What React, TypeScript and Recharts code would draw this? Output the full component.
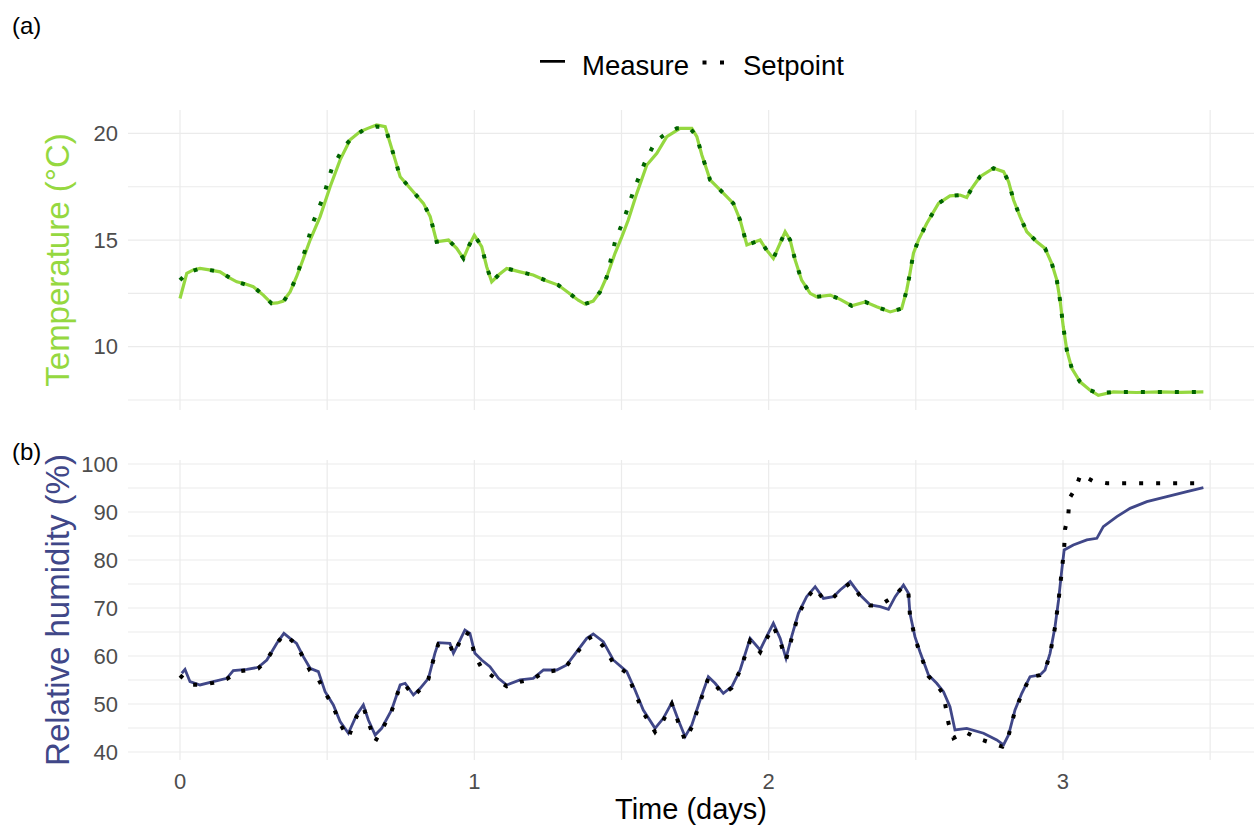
import { LineChart, Line, XAxis, YAxis, CartesianGrid, Label } from 'recharts';

// time in days
const X_TICKS = [0, 1, 2, 3];
const X_GRID = [0, 0.5, 1, 1.5, 2, 2.5, 3, 3.5];
const TEMP_TICKS = [10, 15, 20];
const TEMP_GRID = [7.5, 10, 12.5, 15, 17.5, 20];
const RH_TICKS = [40, 50, 60, 70, 80, 90, 100];
const RH_GRID = [40, 45, 50, 55, 60, 65, 70, 75, 80, 85, 90, 95, 100];

const TEMP_MEASURE: [number, number][] = [
  [0, 12.26], [0.023, 13.44], [0.045, 13.6], [0.068, 13.67], [0.1, 13.6], [0.136, 13.51],
  [0.165, 13.25], [0.193, 13.04], [0.22, 12.95], [0.249, 12.81], [0.283, 12.42], [0.311, 12.03],
  [0.33, 12.05], [0.351, 12.14], [0.374, 12.57], [0.396, 13.28], [0.413, 13.9], [0.442, 15.0],
  [0.476, 16.1], [0.51, 17.5], [0.544, 18.76], [0.578, 19.7], [0.612, 20.09], [0.64, 20.25],
  [0.668, 20.4], [0.697, 20.32], [0.714, 19.54], [0.731, 18.76], [0.748, 17.97], [0.782, 17.43],
  [0.827, 16.72], [0.85, 16.1], [0.872, 14.92], [0.912, 15.0], [0.94, 14.61], [0.963, 14.14],
  [0.98, 14.69], [1.0, 15.23], [1.025, 14.69], [1.042, 13.75], [1.059, 13.04], [1.082, 13.36],
  [1.11, 13.67], [1.155, 13.51], [1.2, 13.36], [1.24, 13.12], [1.285, 12.89], [1.32, 12.53],
  [1.353, 12.18], [1.376, 12.0], [1.404, 12.14], [1.427, 12.57], [1.45, 13.28], [1.478, 14.38],
  [1.501, 15.15], [1.523, 15.94], [1.552, 17.19], [1.586, 18.52], [1.62, 19.07], [1.654, 19.85],
  [1.699, 20.24], [1.739, 20.24], [1.756, 19.85], [1.773, 18.99], [1.79, 18.29], [1.801, 17.82],
  [1.835, 17.35], [1.88, 16.72], [1.903, 15.94], [1.926, 14.77], [1.971, 15.0], [1.993, 14.53],
  [2.016, 14.14], [2.039, 14.85], [2.056, 15.39], [2.073, 15.0], [2.09, 14.06], [2.112, 13.12],
  [2.141, 12.5], [2.163, 12.34], [2.209, 12.42], [2.243, 12.22], [2.282, 11.92], [2.328, 12.1],
  [2.367, 11.87], [2.413, 11.63], [2.452, 11.79], [2.469, 12.65], [2.48, 13.44], [2.492, 14.38],
  [2.509, 15.0], [2.537, 15.78], [2.577, 16.72], [2.616, 17.07], [2.65, 17.11], [2.673, 17.0],
  [2.69, 17.43], [2.718, 17.97], [2.764, 18.37], [2.798, 18.21], [2.815, 17.74], [2.832, 16.88],
  [2.854, 16.1], [2.877, 15.39], [2.911, 14.92], [2.939, 14.61], [2.962, 13.9], [2.979, 13.12],
  [2.99, 12.18], [3.001, 10.93], [3.013, 9.84], [3.03, 8.98], [3.058, 8.35], [3.092, 7.96],
  [3.12, 7.72], [3.171, 7.88], [3.25, 7.85], [3.33, 7.88], [3.4, 7.86], [3.477, 7.88],
];

const TEMP_SETPOINT: [number, number][] = [
  [0, 13.12], [0.023, 13.45], [0.068, 13.67], [0.136, 13.51], [0.193, 13.04], [0.249, 12.81],
  [0.283, 12.42], [0.311, 12.03], [0.351, 12.1], [0.374, 12.6], [0.396, 13.28], [0.425, 14.53],
  [0.453, 15.86], [0.487, 17.03], [0.515, 18.32], [0.557, 19.38], [0.587, 19.82], [0.623, 20.16],
  [0.666, 20.32], [0.697, 20.3], [0.714, 19.54], [0.731, 18.76], [0.748, 17.97], [0.782, 17.43],
  [0.827, 16.72], [0.85, 16.1], [0.872, 14.92], [0.912, 15.0], [0.94, 14.61], [0.963, 14.14],
  [0.98, 14.69], [1.0, 15.23], [1.025, 14.69], [1.042, 13.75], [1.059, 13.04], [1.082, 13.36],
  [1.11, 13.67], [1.155, 13.51], [1.2, 13.36], [1.24, 13.12], [1.285, 12.89], [1.32, 12.53],
  [1.353, 12.18], [1.376, 12.0], [1.404, 12.14], [1.427, 12.57], [1.45, 13.28], [1.478, 14.92],
  [1.512, 16.13], [1.544, 17.43], [1.578, 18.6], [1.615, 19.62], [1.648, 19.96], [1.688, 20.24],
  [1.733, 20.24], [1.756, 19.85], [1.773, 18.99], [1.79, 18.29], [1.801, 17.82], [1.835, 17.35],
  [1.88, 16.72], [1.903, 15.94], [1.926, 14.77], [1.971, 15.0], [1.993, 14.53], [2.016, 14.14],
  [2.039, 14.85], [2.056, 15.39], [2.073, 15.0], [2.09, 14.06], [2.112, 13.12], [2.141, 12.5],
  [2.163, 12.34], [2.209, 12.42], [2.243, 12.22], [2.282, 11.92], [2.328, 12.1], [2.367, 11.87],
  [2.413, 11.63], [2.452, 11.79], [2.469, 12.65], [2.48, 13.44], [2.492, 14.38], [2.509, 15.0],
  [2.537, 15.78], [2.577, 16.72], [2.616, 17.07], [2.65, 17.11], [2.673, 17.0], [2.69, 17.43],
  [2.718, 17.97], [2.764, 18.37], [2.798, 18.21], [2.815, 17.74], [2.832, 16.88], [2.854, 16.1],
  [2.877, 15.39], [2.911, 14.92], [2.939, 14.61], [2.962, 13.9], [2.979, 13.12], [2.99, 12.18],
  [3.001, 10.93], [3.013, 9.84], [3.03, 8.98], [3.058, 8.35], [3.092, 7.96], [3.12, 7.8],
  [3.171, 7.88], [3.25, 7.88], [3.33, 7.88], [3.4, 7.88], [3.477, 7.88],
];

const RH_MEASURE: [number, number][] = [
  [0.006, 56.4], [0.017, 57.2], [0.034, 54.65], [0.068, 53.96], [0.113, 54.65], [0.159, 55.35],
  [0.181, 56.94], [0.227, 57.22], [0.266, 57.64], [0.295, 59.17], [0.329, 62.64], [0.353, 64.72],
  [0.374, 63.68], [0.396, 62.64], [0.419, 59.86], [0.442, 57.43], [0.47, 56.74], [0.493, 52.57],
  [0.521, 49.8], [0.544, 46.32], [0.572, 43.9], [0.6, 47.7], [0.623, 49.8], [0.64, 46.67],
  [0.663, 43.54], [0.685, 44.93], [0.719, 48.75], [0.748, 53.96], [0.765, 54.31], [0.793, 51.88],
  [0.816, 53.26], [0.844, 55.35], [0.866, 60.56], [0.878, 62.78], [0.917, 62.64], [0.929, 60.56],
  [0.946, 62.64], [0.968, 65.42], [0.985, 64.72], [1.002, 60.56], [1.025, 59.17], [1.053, 57.78],
  [1.082, 55.35], [1.11, 53.96], [1.155, 55.0], [1.2, 55.35], [1.235, 57.08], [1.28, 57.08],
  [1.314, 58.13], [1.348, 60.9], [1.382, 63.68], [1.404, 64.58], [1.438, 62.99], [1.472, 59.17],
  [1.518, 56.74], [1.546, 52.92], [1.574, 48.75], [1.614, 44.93], [1.642, 47.01], [1.671, 50.28],
  [1.693, 46.67], [1.716, 43.19], [1.739, 45.63], [1.767, 50.83], [1.795, 55.69], [1.818, 54.31],
  [1.846, 52.22], [1.875, 53.61], [1.903, 57.08], [1.937, 63.68], [1.971, 61.25], [1.993, 64.03],
  [2.016, 66.81], [2.039, 63.68], [2.059, 59.51], [2.078, 64.03], [2.101, 68.9], [2.129, 72.36],
  [2.158, 74.44], [2.186, 72.0], [2.22, 72.36], [2.243, 73.75], [2.277, 75.49], [2.311, 72.71],
  [2.345, 70.63], [2.379, 70.28], [2.407, 69.72], [2.43, 72.36], [2.458, 74.79], [2.475, 73.06],
  [2.48, 68.9], [2.497, 64.03], [2.514, 60.9], [2.543, 56.04], [2.571, 54.31], [2.594, 52.57],
  [2.616, 49.44], [2.633, 44.58], [2.673, 44.93], [2.73, 43.9], [2.775, 42.5], [2.798, 41.46],
  [2.815, 43.54], [2.837, 48.75], [2.86, 52.22], [2.888, 55.69], [2.922, 56.04], [2.939, 57.08],
  [2.956, 60.56], [2.973, 66.11], [2.985, 71.67], [2.996, 77.92], [3.004, 82.08], [3.035, 83.13],
  [3.081, 84.17], [3.115, 84.51], [3.137, 86.94], [3.183, 89.03], [3.228, 90.76], [3.285, 92.15],
  [3.353, 93.19], [3.421, 94.24], [3.477, 95.07],
];

const RH_SETPOINT: [number, number][] = [
  [0, 56.0], [0.034, 54.0], [0.068, 54.0], [0.113, 54.4], [0.159, 55.2], [0.2, 56.8],
  [0.266, 57.4], [0.295, 59.2], [0.329, 62.6], [0.353, 64.5], [0.374, 63.5], [0.396, 62.4],
  [0.419, 59.6], [0.442, 56.9], [0.47, 55.2], [0.493, 52.4], [0.521, 49.4], [0.544, 45.8],
  [0.572, 43.0], [0.6, 47.4], [0.623, 49.4], [0.64, 46.2], [0.663, 42.2], [0.685, 44.5],
  [0.719, 48.5], [0.748, 53.8], [0.765, 54.0], [0.793, 51.6], [0.816, 53.0], [0.844, 55.2],
  [0.866, 60.4], [0.878, 62.5], [0.917, 62.4], [0.929, 60.4], [0.946, 62.4], [0.968, 65.0],
  [0.985, 64.4], [1.002, 60.0], [1.025, 57.5], [1.053, 56.2], [1.082, 54.8], [1.11, 53.7],
  [1.155, 54.6], [1.2, 55.2], [1.235, 56.6], [1.28, 57.0], [1.314, 58.0], [1.348, 60.6],
  [1.382, 63.4], [1.404, 64.2], [1.438, 62.0], [1.472, 58.6], [1.518, 56.4], [1.546, 52.4],
  [1.574, 48.2], [1.614, 44.2], [1.642, 46.6], [1.671, 50.0], [1.693, 46.2], [1.716, 42.4],
  [1.739, 45.2], [1.767, 50.4], [1.795, 55.4], [1.818, 54.0], [1.846, 52.0], [1.875, 53.4],
  [1.903, 57.0], [1.937, 63.2], [1.971, 60.8], [1.993, 63.6], [2.016, 66.2], [2.039, 63.0],
  [2.059, 59.2], [2.078, 63.6], [2.101, 68.6], [2.129, 72.0], [2.158, 74.2], [2.186, 71.8],
  [2.22, 72.2], [2.243, 73.6], [2.277, 75.2], [2.311, 72.5], [2.345, 70.5], [2.379, 70.6],
  [2.43, 72.6], [2.458, 74.6], [2.475, 73.0], [2.48, 68.6], [2.497, 63.8], [2.514, 60.6],
  [2.543, 55.8], [2.571, 54.0], [2.594, 52.0], [2.611, 46.0], [2.628, 42.9], [2.667, 44.2],
  [2.707, 42.9], [2.75, 42.0], [2.794, 41.1], [2.815, 43.4], [2.837, 48.6], [2.86, 52.0],
  [2.888, 55.6], [2.922, 56.0], [2.939, 57.0], [2.956, 60.4], [2.973, 66.0], [2.985, 71.6],
  [2.996, 77.8], [3.004, 82.4], [3.007, 86.4], [3.018, 89.4], [3.022, 92.85], [3.044, 95.1],
  [3.06, 97.85], [3.1, 96.5], [3.15, 96.0], [3.477, 96.0],
];

const GREEN = '#95D840';
const DARK_GREEN = '#006400';
const BLUE = '#404788';
const GRID = '#EBEBEB';
const TICK = { fill: '#4D4D4D', fontSize: 22 };
const X_DOMAIN: [number, number] = [-0.1767, 3.649];

const rows = (pts: [number, number][]) => pts.map(([t, v]) => ({ t, v }));

export default function App() {
  return (
    <div
      style={{
        position: 'absolute', left: 0, top: 0, width: 1254, height: 827,
        background: '#fff', fontFamily: '"Liberation Sans", Arial, sans-serif',
      }}
    >
      <div style={{ position: 'absolute', left: 0, top: 0 }}>
        <LineChart width={1254} height={420} margin={{ top: 110, right: 0, bottom: 10, left: 0 }}>
          <CartesianGrid stroke={GRID} strokeWidth={1.2} horizontalValues={TEMP_GRID} verticalValues={X_GRID} />
          <XAxis dataKey="t" type="number" domain={X_DOMAIN} allowDataOverflow hide />
          <YAxis
            type="number" domain={[7.03, 21.1]} allowDataOverflow ticks={TEMP_TICKS}
            width={128} axisLine={false} tickLine={false} tickMargin={4} tick={TICK}
          >
            <Label value="Temperature (°C)" angle={-90} position="insideLeft" offset={57}
              style={{ textAnchor: 'middle', fill: GREEN, fontSize: 33 }} />
          </YAxis>
          <Line data={rows(TEMP_MEASURE)} dataKey="v" type="linear" stroke={GREEN}
            strokeWidth={3.2} dot={false} isAnimationActive={false} />
          <Line data={rows(TEMP_SETPOINT)} dataKey="v" type="linear" stroke={DARK_GREEN}
            strokeWidth={4} strokeDasharray="4 13" dot={false} isAnimationActive={false} />
        </LineChart>
      </div>
      <div style={{ position: 'absolute', left: 0, top: 420 }}>
        <LineChart width={1254} height={407} margin={{ top: 40, right: 0, bottom: 0, left: 0 }}>
          <CartesianGrid stroke={GRID} strokeWidth={1.2} horizontalValues={RH_GRID} verticalValues={X_GRID} />
          <XAxis
            dataKey="t" type="number" domain={X_DOMAIN} allowDataOverflow ticks={X_TICKS}
            height={67} axisLine={false} tickLine={false} tickMargin={7} tick={TICK}
          >
            <Label value="Time (days)" position="insideBottom" offset={8}
              style={{ fill: '#000', fontSize: 29 }} />
          </XAxis>
          <YAxis
            type="number" domain={[38.33, 100.83]} allowDataOverflow ticks={RH_TICKS}
            width={128} axisLine={false} tickLine={false} tickMargin={4} tick={TICK}
          >
            <Label value="Relative humidity (%)" angle={-90} position="insideLeft" offset={57}
              style={{ textAnchor: 'middle', fill: BLUE, fontSize: 33 }} />
          </YAxis>
          <Line data={rows(RH_MEASURE)} dataKey="v" type="linear" stroke={BLUE}
            strokeWidth={2.8} dot={false} isAnimationActive={false} />
          <Line data={rows(RH_SETPOINT)} dataKey="v" type="linear" stroke="#000"
            strokeWidth={4} strokeDasharray="4 13" dot={false} isAnimationActive={false} />
        </LineChart>
      </div>
      <svg width={1254} height={827} style={{ position: 'absolute', left: 0, top: 0, pointerEvents: 'none' }}>
        <text x={12} y={34} fontSize={24} fill="#000">(a)</text>
        <text x={12} y={460} fontSize={24} fill="#000">(b)</text>
        <rect x={540} y={60} width={25} height={2.7} fill="#000" />
        <text x={582} y={75} fontSize={27.5} fill="#000">Measure</text>
        <rect x={702.5} y={60.5} width={4} height={4} fill="#000" />
        <rect x={720} y={60.5} width={4} height={4} fill="#000" />
        <text x={743} y={75} fontSize={27.5} fill="#000">Setpoint</text>
      </svg>
    </div>
  );
}
